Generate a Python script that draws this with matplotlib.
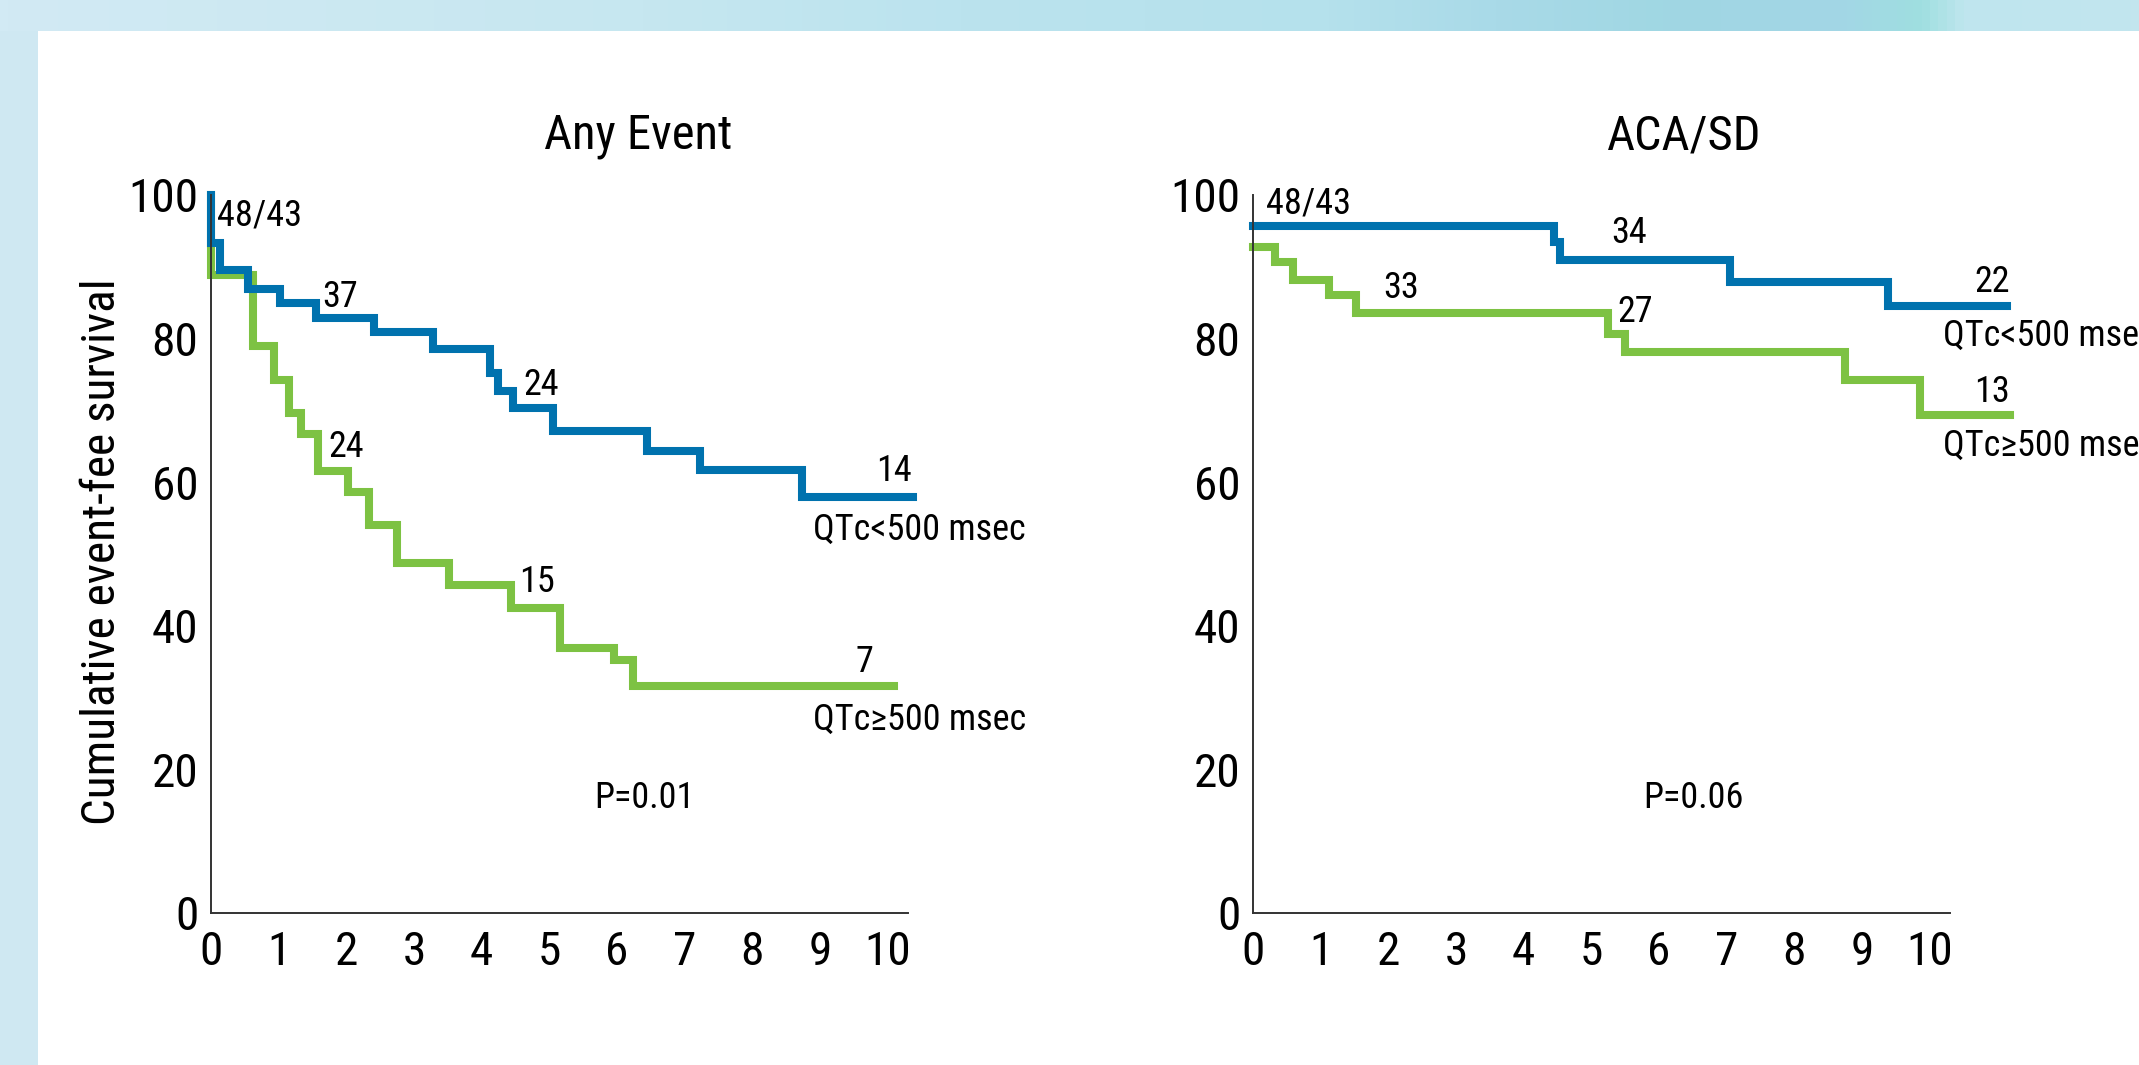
import os
import numpy as np
import matplotlib
matplotlib.use('Agg')
import matplotlib.pyplot as plt
from matplotlib import font_manager
from matplotlib.font_manager import FontProperties
from matplotlib.colors import LinearSegmentedColormap
from matplotlib.patches import Rectangle

# ---------------- font selection (prefer a condensed sans) ----------------
def pick_font():
    files = font_manager.findSystemFonts()
    prefs = ['liberationsansnarrow-regular', 'robotocondensed-regular', 'notosans-condensed',
             'notosanscondensed-regular', 'opensans-condensed', 'opensanscondensed',
             'dejavusanscondensed.ttf', 'arialnarrow', 'nimbussansnarrow-regular',
             'nimbussansnarrow']
    low = [(f, os.path.basename(f).lower().replace('_', '').replace(' ', '')) for f in files]
    for p in prefs:
        for f, b in low:
            if b.startswith(p) and 'bold' not in b and 'italic' not in b and 'oblique' not in b:
                return f
    for f, b in low:
        if ('narrow' in b or 'condensed' in b) and not any(k in b for k in
                ('bold', 'italic', 'oblique', 'light', 'thin', 'black', 'medium', 'semi', 'extra')):
            return f
    return None

FFILE = pick_font()
if FFILE:
    font_manager.fontManager.addfont(FFILE)
    FP = FontProperties(fname=FFILE)
else:
    plt.rcParams['font.family'] = ['Liberation Sans', 'DejaVu Sans']
    FP = FontProperties(family=['Liberation Sans', 'DejaVu Sans'])

# ---------------- data ----------------
x_ticks = list(range(0, 11))
y_ticks = [0, 20, 40, 60, 80, 100]
titles = ['Any Event', 'ACA/SD']
y_label = 'Cumulative event-fee survival'
p_values = ['P=0.01', 'P=0.06']
group_labels = ['QTc<500 msec', 'QTc\u2265500 msec']

# Any Event, QTc<500 (step-post: time, survival)
any_lt_t = [0, 0, 0.13, 0.55, 1.02, 1.55, 2.41, 3.28, 4.13, 4.24, 4.47, 5.05, 6.45, 7.22, 8.74, 10.38]
any_lt_s = [100, 93.3, 89.6, 86.9, 85.0, 82.8, 80.9, 78.6, 75.2, 72.7, 70.3, 67.2, 64.4, 61.7, 58.0, 58.0]
# Any Event, QTc>=500
any_ge_t = [0, 0, 0.62, 0.93, 1.16, 1.33, 1.58, 2.03, 2.33, 2.75, 3.52, 4.43, 5.16, 5.96, 6.23, 10.1]
any_ge_s = [100, 88.9, 79.0, 74.2, 69.7, 66.7, 61.6, 58.6, 54.0, 48.7, 45.7, 42.5, 36.9, 35.2, 31.6, 31.6]
# ACA/SD, QTc<500
aca_lt_t = [0, 4.45, 4.54, 7.05, 9.38, 11.14]
aca_lt_s = [95.7, 93.4, 91.0, 87.9, 84.6, 84.6]
# ACA/SD, QTc>=500
aca_ge_t = [0, 0.32, 0.59, 1.13, 1.52, 5.24, 5.50, 8.75, 9.85, 11.19]
aca_ge_s = [92.7, 90.7, 88.2, 86.1, 83.6, 80.7, 78.2, 74.2, 69.4, 69.4]

# numbers at risk
any_risk = ['48/43', '37', '24', '14', '24', '15', '7']
aca_risk = ['48/43', '34', '22', '33', '27', '13']

# ---------------- layout ----------------
W, H = 2139, 1065
fig = plt.figure(figsize=(W / 100, H / 100), dpi=100)
fig.patch.set_facecolor('white')

# background decoration
bg = fig.add_axes([0, 0, 1, 1], zorder=-10)
bg.set_axis_off()
band_cmap = LinearSegmentedColormap.from_list('band', [
    (0.0, '#d2eaf4'), (0.3, '#c6e7f0'), (0.45, '#bbe3ee'), (0.62, '#b5e1ec'),
    (0.70, '#a9dae8'), (0.78, '#a0d7e3'), (0.86, '#a3d6e6'), (0.90, '#9fdfe0'),
    (0.92, '#bfe6ee'), (1.0, '#c2e5ee')])
grad = np.linspace(0, 1, 512)[None, :]
bg.imshow(grad, extent=[0, W, 31, 0], aspect='auto', cmap=band_cmap)
bg.add_patch(Rectangle((0, 31), 38, H - 31, color='#cfe8f2', lw=0))
bg.set_xlim(0, W)
bg.set_ylim(H, 0)

BLUE = '#0072ae'
GREEN = '#7dc243'
TXT = 26
TICK = 34

def fp(size):
    p = FP.copy()
    p.set_size(size)
    return p

ax_w, ax_h = 697 / W, 718 / H
ax_b = (H - 913) / H
ax1 = fig.add_axes([211 / W, ax_b, ax_w, ax_h])
ax2 = fig.add_axes([1253 / W, ax_b, ax_w, ax_h])

for ax in (ax1, ax2):
    ax.set_xlim(0, 10.3)
    ax.set_ylim(0, 100)
    ax.set_xticks(x_ticks)
    ax.set_yticks(y_ticks)
    ax.tick_params(length=0, pad=9)
    ax.tick_params(axis='x', pad=12)
    for lab in ax.get_xticklabels() + ax.get_yticklabels():
        lab.set_fontproperties(fp(TICK))
    for s in ('top', 'right'):
        ax.spines[s].set_visible(False)
    for s in ('left', 'bottom'):
        ax.spines[s].set_color('#333333')
        ax.spines[s].set_linewidth(1.4)
    ax.set_facecolor('none')

lw = 5.8
kw = dict(drawstyle='steps-post', lw=lw, clip_on=False, solid_joinstyle='miter')
ax1.plot(any_ge_t, any_ge_s, color=GREEN, **kw)
ax1.plot(any_lt_t, any_lt_s, color=BLUE, **kw)
ax2.plot(aca_ge_t, aca_ge_s, color=GREEN, **kw)
ax2.plot(aca_lt_t, aca_lt_s, color=BLUE, **kw)

tkw = dict(ha='left', va='baseline', clip_on=False, fontproperties=fp(TXT))

# at-risk numbers
any_pos = [(0.09, 95.8), (1.65, 84.4), (4.61, 72.1), (9.83, 60.1), (1.73, 63.5), (4.56, 44.7), (9.53, 33.6)]
for s, (x, y) in zip(any_risk, any_pos):
    ax1.text(x, y, s, **tkw)
aca_pos = [(0.19, 97.4), (5.29, 93.3), (10.66, 86.5), (1.93, 85.7), (5.38, 82.3), (10.66, 71.2)]
for s, (x, y) in zip(aca_risk, aca_pos):
    ax2.text(x, y, s, **tkw)

# group labels
ax1.text(8.89, 51.9, group_labels[0], **tkw)
ax1.text(8.89, 25.5, group_labels[1], **tkw)
ax2.text(10.2, 79.0, group_labels[0], **tkw)
ax2.text(10.2, 63.6, group_labels[1], **tkw)

# p-values
ax1.text(5.67, 16.0, p_values[0], ha='left', va='center', fontproperties=fp(TXT))
ax2.text(5.77, 16.0, p_values[1], ha='left', va='center', fontproperties=fp(TXT))

# titles
ax1.text(6.31, 108.2, titles[0], ha='center', va='center', clip_on=False, fontproperties=fp(35))
ax2.text(6.38, 108.2, titles[1], ha='center', va='center', clip_on=False, fontproperties=fp(35))

# y label
fig.text(102 / W, 1 - 552 / H, y_label, rotation=90, ha='center', va='center',
         fontproperties=fp(34))

fig.savefig('out.png', dpi=100)
